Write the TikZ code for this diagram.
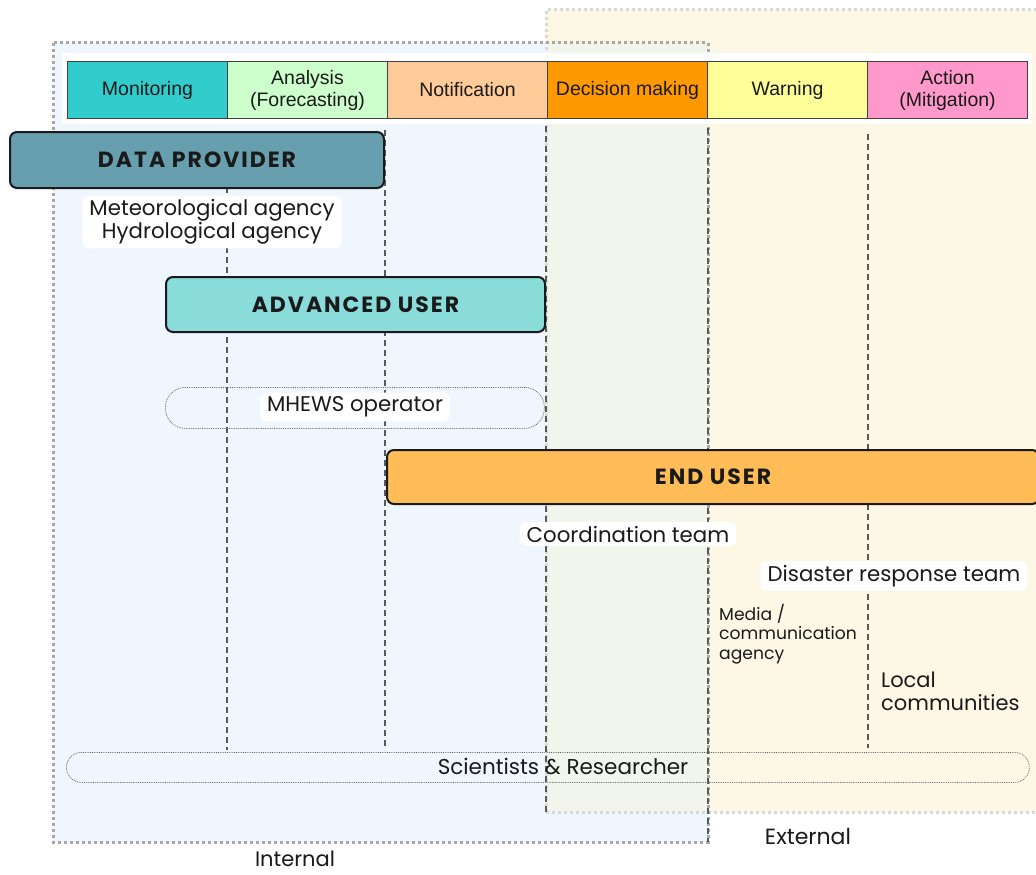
\documentclass[tikz,border=0pt]{standalone}
\usepackage{fontspec}
\setmainfont{Poppins}
\newfontfamily\hdrfont{Liberation Sans}
\newfontfamily\ttlfont[LetterSpace=9]{Poppins}
\definecolor{intfill}{HTML}{EFF6FD}
\definecolor{extfill}{HTML}{FDF7E5}
\definecolor{ovfill}{HTML}{F1F5EC}
\definecolor{dpfill}{HTML}{689FAE}
\definecolor{aufill}{HTML}{8ADCDB}
\definecolor{eufill}{HTML}{FFBC57}
\definecolor{hA}{HTML}{33CCCC}
\definecolor{hB}{HTML}{CCFFCC}
\definecolor{hC}{HTML}{FFCC99}
\definecolor{hD}{HTML}{FF9900}
\definecolor{hE}{HTML}{FFFF99}
\definecolor{hF}{HTML}{FF99CC}
\definecolor{intborder}{HTML}{A8A8A8}
\definecolor{extborder}{HTML}{D8D8D8}
\definecolor{txt}{HTML}{1A1A1A}
\begin{document}
\begin{tikzpicture}[x=1pt,y=-1pt,
  hdrcell/.style={draw=black!75, line width=1pt, minimum width=160pt, minimum height=57pt, anchor=north west, inner sep=0pt, align=center, font=\hdrfont\fontsize{19.5}{22}\selectfont, text=txt},
  rolebox/.style={draw=txt, line width=2pt, rounded corners=7pt, anchor=north west, inner sep=0pt, font=\ttlfont\bfseries\fontsize{22}{24}\selectfont, text=txt},
  lbl/.style={fill=white, rounded corners=7pt, inner xsep=7pt, inner ysep=4pt, align=center, text=txt, font=\fontsize{21.3}{23}\selectfont},
  pill/.style={draw=black!60, densely dotted, line width=0.8pt},
  vdash/.style={draw=black!65, dash pattern=on 6pt off 4pt, line width=1.3pt},
  intb/.style={draw=intborder, line width=3pt, dash pattern=on 3pt off 3pt},
  extb/.style={draw=extborder, line width=3pt, dash pattern=on 3pt off 3pt},
  plain/.style={text=txt, inner sep=0pt}
]
\useasboundingbox (0,0) rectangle (1036,875);
\fill[white] (0,0) rectangle (1036,875);
% regions
\fill[intfill] (53,43) rectangle (708,842);
\fill[extfill] (546,10) rectangle (1045,812);
\fill[ovfill] (546,43) rectangle (708,812);
\draw[extb] (546,812) -- (546,10) -- (1045,10);
\draw[extb] (546,812) -- (1045,812);
\draw[intb] (53,43) rectangle (708,842);
% header
\fill[white] (62,53) rectangle (1032,124);
\node[hdrcell, fill=hA] (h1) at (67,61) {Monitoring};
\node[hdrcell, fill=hB] (h2) at (227,61) {Analysis\\(Forecasting)};
\node[hdrcell, fill=hC] (h3) at (387,61) {Notification};
\node[hdrcell, fill=hD] (h4) at (547,61) {Decision making};
\node[hdrcell, fill=hE] (h5) at (707,61) {Warning};
\node[hdrcell, fill=hF] (h6) at (867,61) {Action\\(Mitigation)};
% dashed column lines
\coordinate (t1) at (227,187); \coordinate (b1) at (227,750);
\coordinate (t2) at (385,130); \coordinate (b2) at (385,750);
\coordinate (t3) at (546,126); \coordinate (b3) at (546,812);
\coordinate (t4) at (708,128); \coordinate (b4) at (708,842);
\coordinate (t5) at (868,134); \coordinate (b5) at (868,748);
\draw[vdash] (t1) -- (b1);
\draw[vdash] (t2) -- (b2);
\draw[vdash] (t3) -- (b3);
\draw[vdash] (t4) -- (b4);
\draw[vdash] (t5) -- (b5);
% role boxes
\node[rolebox, fill=dpfill, minimum width=374pt, minimum height=56pt] (dp) at (9,131) {DATA PROVIDER};
\node[lbl] (met) at (212,222) {Meteorological agency\\Hydrological agency};
\node[rolebox, fill=aufill, minimum width=379pt, minimum height=55pt] (au) at (165,276) {ADVANCED USER};
\node[pill, rounded corners=20pt, minimum width=379pt, minimum height=41pt, anchor=north west] (mhp) at (165,387) {};
\node[lbl] (mh) at (355,407) {MHEWS operator};
\node[rolebox, fill=eufill, minimum width=652pt, minimum height=54pt] (eu) at (386,449) {END USER};
\node[lbl] (co) at (628,534) {Coordination team};
\node[lbl] (dr) at (894,576) {Disaster response team};
\node[plain, anchor=north west, align=left, font=\fontsize{17.2}{19.5}\selectfont] (me) at (719,604) {Media /\\communication\\agency};
\node[plain, anchor=north west, align=left, font=\fontsize{21}{22.5}\selectfont] (lc) at (881,672) {Local\\communities};
\node[pill, rounded corners=15pt, minimum width=963pt, minimum height=30pt, anchor=north west] (scp) at (66,752) {};
\node[plain, font=\fontsize{21.5}{22}\selectfont] (sc) at (563,766) {Scientists \& Researcher};
\node[plain, font=\fontsize{22}{22}\selectfont] (ex) at (808,836) {External};
\node[plain, font=\fontsize{21}{22}\selectfont] (in) at (295,859) {Internal};
\end{tikzpicture}
\end{document}
